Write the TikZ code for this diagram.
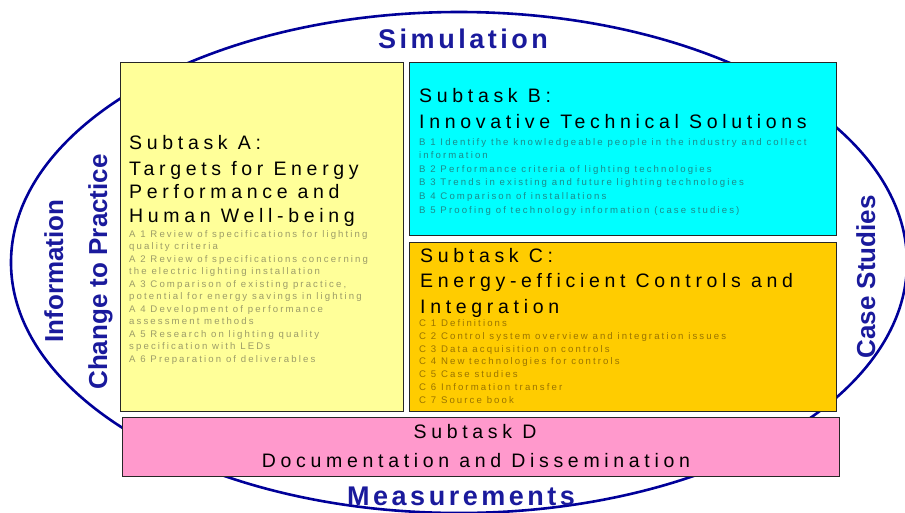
\documentclass[tikz,border=0pt]{standalone}
\usepackage{fontspec}
\setmainfont{Liberation Sans}
\newfontfamily\headfont[LetterSpace=24]{Liberation Sans}
\newfontfamily\itemfont[LetterSpace=22]{Liberation Sans}
\newfontfamily\ringfont[LetterSpace=13]{Liberation Sans}
\usepackage{tikz}
\usetikzlibrary{positioning}

\definecolor{ringblue}{HTML}{000099}
\definecolor{labelblue}{HTML}{1A1A9C}
\definecolor{fillA}{HTML}{FFFF99}
\definecolor{fillB}{HTML}{00FFFF}
\definecolor{fillC}{HTML}{FFCC00}
\definecolor{fillD}{HTML}{FF99CC}
\definecolor{itemA}{HTML}{9C9C68}
\definecolor{itemB}{HTML}{1C8A8A}
\definecolor{itemC}{HTML}{9A7400}

\begin{document}
\begin{tikzpicture}[x=1pt, y=-1pt,
  box/.style={draw=black!85, line width=1.4pt, anchor=north west, inner sep=0pt},
  head/.style={anchor=base west, inner sep=0pt, align=left, font=\headfont\fontsize{19.5}{23.5}\selectfont},
  items/.style={anchor=base west, inner sep=0pt, align=left, font=\itemfont\fontsize{9.6}{12.5}\selectfont},
  ring/.style={anchor=base west, text=labelblue, inner sep=0pt, font=\ringfont\bfseries\fontsize{27}{30}\selectfont},
  side/.style={anchor=base, rotate=90, text=labelblue, inner sep=0pt, font=\bfseries\fontsize{26}{29}\selectfont}]
        \useasboundingbox (0,0) rectangle (905,512);
        % outer ring
        \draw[ringblue, line width=2.6pt] (459,262.5) ellipse [x radius=448, y radius=250.5];

        % the four subtask boxes
        \node (subA) [box, fill=fillA, minimum width=283, minimum height=349] at (120,62) {};
        \node (subB) [box, fill=fillB, minimum width=427, minimum height=173] at (409,62) {};
        \node (subC) [box, fill=fillC, minimum width=427, minimum height=169] at (409,242) {};
        \node (subD) [box, fill=fillD, minimum width=717, minimum height=59] at (122,417) {};

        % subtask A (multi-line nodes sit on the baseline of their last line)
        \node (headA) [head] at (129,149) {Subtask A:};
        \node (titleA) [head] at (129,222) {Targets for Energy\\Performance and\\Human Well-being};
        \node (listA) [items, text=itemA] at (129,362) {A 1 Review of specifications for lighting\\quality criteria\\A 2 Review of  specifications  concerning\\the electric lighting installation\\A 3 Comparison of existing practice,\\potential for energy savings in lighting\\A 4 Development of performance\\assessment methods\\A 5 Research on lighting quality\\specification with LEDs\\A 6 Preparation of deliverables};

        % subtask B
        \node (headB) [head] at (419,102) {Subtask B:};
        \node (titleB) [head] at (419,128) {Innovative Technical Solutions};
        \node (listB) [items, text=itemB, font=\itemfont\fontsize{9.6}{13.6}\selectfont] at (419,213) {B 1 Identify the knowledgeable people in the industry and collect\\information\\B 2 Performance criteria of lighting technologies\\B 3 Trends in existing and future lighting technologies\\B 4 Comparison of installations\\B 5 Proofing of technology information (case studies)};

        % subtask C
        \node (headC) [head] at (420,262) {Subtask C:};
        \node (titleC) [head, font=\headfont\fontsize{19.5}{25.5}\selectfont] at (420,313) {Energy-efficient Controls and\\Integration};
        \node (listC) [items, text=itemC, font=\itemfont\fontsize{9.6}{12.7}\selectfont] at (419,403) {C 1 Definitions\\C 2 Control system overview and integration issues\\C 3 Data acquisition on controls\\C 4 New technologies for controls\\C 5 Case studies\\C 6 Information transfer\\C 7 Source book};

        % subtask D
        \node (headD) [head, anchor=base] at (475,438) {Subtask D};
        \node (titleD) [head, anchor=base] at (476,467) {Documentation and Dissemination};

        % labels round the ring
        \node (simLabel) [ring] at (378,48) {Simulation};
        \node (measLabel) [ring] at (347,505) {Measurements};
        \node (infoLabel) [side] at (63,271) {Information};
        \node (changeLabel) [side] at (107,272) {Change to Practice};
        \node (caseLabel) [side] at (875,277) {Case Studies};
\end{tikzpicture}
\end{document}
